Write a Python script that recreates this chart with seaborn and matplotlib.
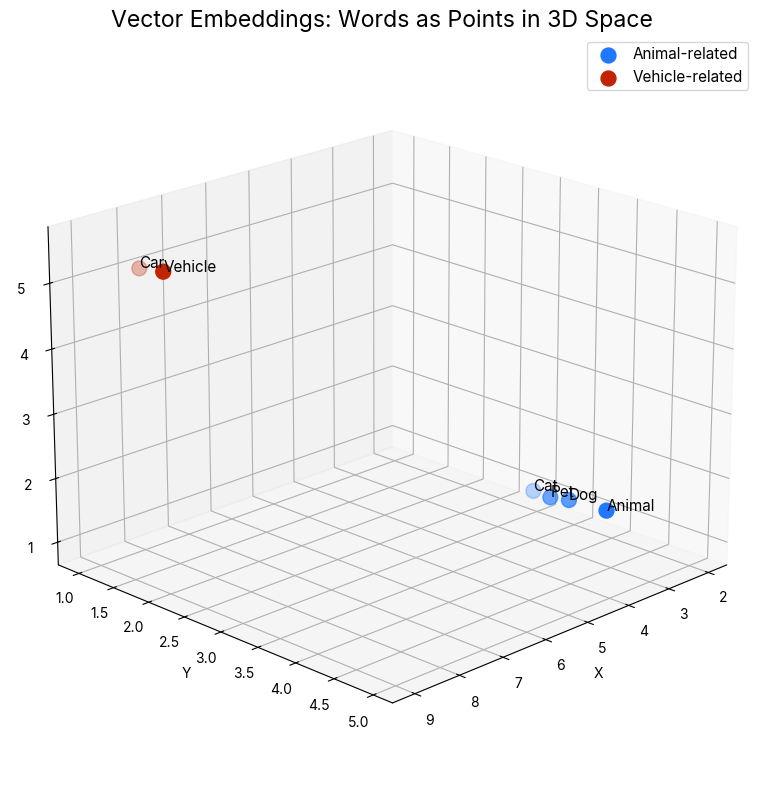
import numpy as np
import matplotlib
matplotlib.use("Agg")
import matplotlib.pyplot as plt
import seaborn as sns

sns.set_theme(style="white")
plt.rcParams['font.family'] = ['Inter', 'DejaVu Sans']
plt.rcParams['text.color'] = 'black'
plt.rcParams['axes.labelcolor'] = 'black'
plt.rcParams['xtick.color'] = 'black'
plt.rcParams['ytick.color'] = 'black'
plt.rcParams['axes.edgecolor'] = 'black'
plt.rcParams['axes.linewidth'] = 0.8
plt.rcParams['grid.color'] = '#b0b0b0'
plt.rcParams['grid.linewidth'] = 0.8
plt.rcParams['xtick.major.width'] = 0.8
plt.rcParams['ytick.major.width'] = 0.8
plt.rcParams['legend.edgecolor'] = '0.8'

# Data
animal_words = ["Dog", "Cat", "Pet", "Animal"]
animal_x = [2.2, 2.1, 2.33, 2.11]
animal_y = [3.53, 3.0, 3.35, 3.98]
animal_z = [1.1, 1.0, 1.1, 1.1]

vehicle_words = ["Car", "Vehicle"]
vehicle_x = [8.0, 8.0]
vehicle_y = [1.0, 1.34]
vehicle_z = [5.03, 5.1]

fig = plt.figure(figsize=(7.64, 7.90), dpi=100)
ax = fig.add_axes([0.0126, -0.017, 0.976, 1.0], projection="3d")

ax.scatter(animal_x, animal_y, animal_z, color="#1f78ff", s=115, label="Animal-related")
ax.scatter(vehicle_x, vehicle_y, vehicle_z, color="#c22400", s=115, label="Vehicle-related")

for w, x, y, z in zip(animal_words, animal_x, animal_y, animal_z):
    ax.text(x, y, z, w, size=11, color="black")
for w, x, y, z in zip(vehicle_words, vehicle_x, vehicle_y, vehicle_z):
    ax.text(x, y, z, w, size=11, color="black")

ax.set_xlabel("X", fontsize=10)
ax.set_ylabel("Y", fontsize=10)
ax.tick_params(labelsize=10)
ax.set_xlim(1.525, 9.495)
ax.set_ylim(0.697, 5.243)
ax.set_zlim(0.64, 5.85)
ax.set_yticks([1, 1.5, 2, 2.5, 3, 3.5, 4, 4.5, 5])
ax.set_xticks([2, 3, 4, 5, 6, 7, 8, 9])
ax.set_zticks([1, 2, 3, 4, 5])
ax.view_init(elev=20, azim=45)
fig.text(0.5, 1 - 21 / 790, "Vector Embeddings: Words as Points in 3D Space",
         fontsize=16.6, ha="center", va="center", color="black")
ax.legend(loc="upper right", bbox_to_anchor=(748 / 764, 1 - 42 / 790), bbox_transform=fig.transFigure,
          borderaxespad=0, borderpad=0.35, labelspacing=0.5, handletextpad=0.6)
plt.savefig("out.png", dpi=100)
